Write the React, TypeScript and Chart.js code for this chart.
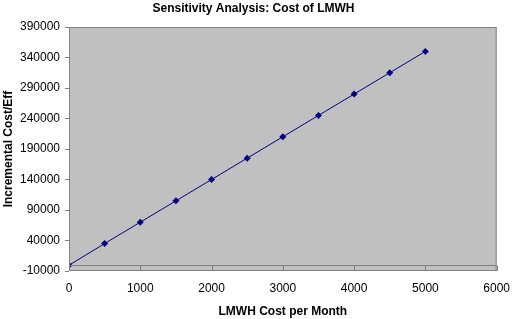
import React, { useEffect, useRef } from "react";
import { Chart, registerables } from "chart.js";

Chart.register(...registerables);

const costPerMonth = [0, 500, 1000, 1500, 2000, 2500, 3000, 3500, 4000, 4500, 5000];
const incrementalCostEff = [-500, 35000, 70000, 105000, 140000, 175000, 210000, 245000, 280000, 315000, 350000];
const xTickValues = [0, 1000, 2000, 3000, 4000, 5000, 6000];
const yTickValues = [-10000, 40000, 90000, 140000, 190000, 240000, 290000, 340000, 390000];

const FONT = "'Liberation Sans', Arial, sans-serif";

const plotBackground = {
  id: "plotBackground",
  beforeDraw(chart: any) {
    const { ctx, chartArea } = chart;
    ctx.save();
    ctx.fillStyle = "#c0c0c0";
    ctx.fillRect(chartArea.left, chartArea.top, chartArea.right - chartArea.left, chartArea.bottom - chartArea.top);
    ctx.restore();
  },
  afterDraw(chart: any) {
    const { ctx, chartArea, scales } = chart;
    const x = scales.x;
    const y = scales.y;
    const zeroY = Math.round(y.getPixelForValue(0)) + 0.5;
    ctx.save();
    ctx.strokeStyle = "#808080";
    ctx.lineWidth = 1;
    ctx.strokeRect(chartArea.left + 0.5, chartArea.top + 0.5, chartArea.right - chartArea.left - 1, chartArea.bottom - chartArea.top - 1);
    ctx.beginPath();
    ctx.moveTo(chartArea.left, zeroY);
    ctx.lineTo(chartArea.right, zeroY);
    xTickValues.forEach((v) => {
      const px = Math.round(x.getPixelForValue(v)) + 0.5;
      ctx.moveTo(px, zeroY);
      ctx.lineTo(px, chartArea.bottom);
    });
    ctx.stroke();
    ctx.restore();
  },
};

export default function App() {
  const ref = useRef<HTMLCanvasElement>(null);
  useEffect(() => {
    document.body.style.margin = "0";
    const canvas = ref.current!;
    const chart = new Chart(canvas, {
      type: "scatter",
      data: {
        datasets: [
          {
            data: costPerMonth.map((c, i) => ({ x: c, y: incrementalCostEff[i] })),
            showLine: true,
            borderColor: "#000080",
            backgroundColor: "#000080",
            borderWidth: 1,
            pointStyle: "rectRot",
            pointRadius: 3.5,
            pointBorderWidth: 0,
          },
        ],
      },
      options: {
        responsive: false,
        animation: false,
        devicePixelRatio: 1,
        layout: { padding: { left: 0, right: 13, top: 0, bottom: 0 } },
        plugins: {
          legend: { display: false },
          tooltip: { enabled: false },
          title: {
            display: true,
            text: "Sensitivity Analysis: Cost of LMWH",
            color: "#000",
            font: { family: FONT, size: 12, weight: "bold" },
            padding: { top: 1, bottom: 11.6 },
          },
        },
        scales: {
          x: {
            type: "linear",
            min: 0,
            max: 6000,
            afterBuildTicks: (s: any) => {
              s.ticks = xTickValues.map((v) => ({ value: v }));
            },
            afterFit: (s: any) => {
              s.height = 48;
            },
            grid: { display: false, drawTicks: false },
            border: { display: false },
            ticks: {
              color: "#000",
              font: { family: FONT, size: 12 },
              padding: 10,
              maxRotation: 0,
              autoSkip: false,
              callback: (v: any) => String(v),
            },
            title: {
              display: true,
              text: "LMWH Cost per Month",
              color: "#000",
              font: { family: FONT, size: 12, weight: "bold" },
              padding: { top: 0, bottom: 0 },
            },
          },
          y: {
            type: "linear",
            min: -10000,
            max: 390000,
            afterBuildTicks: (s: any) => {
              s.ticks = yTickValues.map((v) => ({ value: v }));
            },
            afterFit: (s: any) => {
              s.width = 69;
            },
            grid: {
              drawOnChartArea: false,
              drawTicks: true,
              tickLength: 4,
              color: "#808080",
            },
            border: { display: false },
            ticks: {
              color: "#000",
              font: { family: FONT, size: 12 },
              padding: 5,
              autoSkip: false,
              callback: (v: any) => String(v),
            },
            title: {
              display: true,
              text: "Incremental Cost/Eff",
              color: "#000",
              font: { family: FONT, size: 12, weight: "bold" },
              padding: { top: 1, bottom: 0 },
            },
          },
        },
      },
      plugins: [plotBackground],
    });
    return () => chart.destroy();
  }, []);
  return (
    <div style={{ position: "absolute", left: 0, top: 0, width: 520, height: 319, background: "#fff" }}>
      <canvas ref={ref} width={520} height={319} style={{ width: 520, height: 319 }} />
    </div>
  );
}
